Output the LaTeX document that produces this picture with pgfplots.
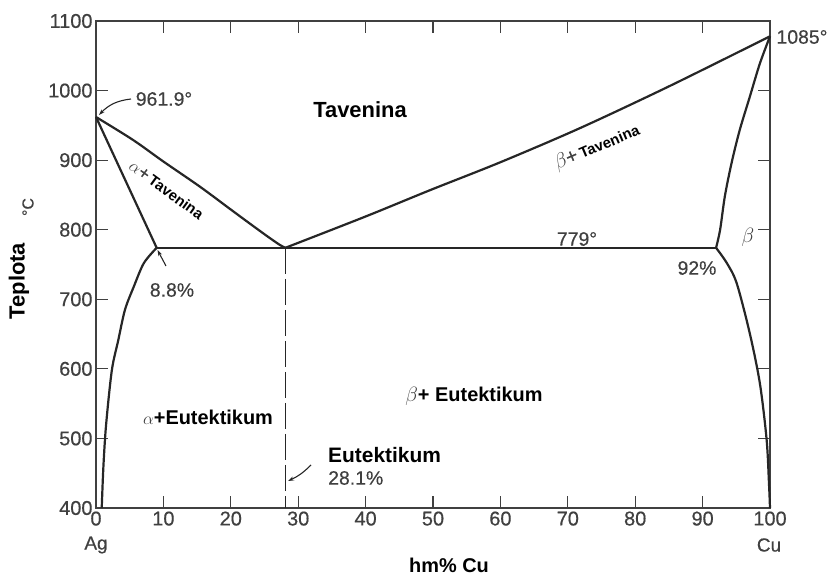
\documentclass[border=0pt]{standalone}
\usepackage{fontspec}
\setmainfont{Liberation Sans}
\newfontface\semib{Liberation Sans}[FakeBold=0.5]
\usepackage{pgfplots}
\pgfplotsset{compat=1.18}
\usetikzlibrary{arrows.meta}
\definecolor{ink}{gray}{0.15}
\definecolor{tk}{gray}{0.25}
\newcommand{\fs}[1]{\fontsize{#1}{#1}\selectfont}
\begin{document}
\begin{tikzpicture}
\path[use as bounding box] (0bp,0bp) rectangle (829bp,580bp);
\begin{axis}[
  at={(96bp,72bp)}, anchor=south west,
  scale only axis, width=674bp, height=487bp,
  xmin=0, xmax=100, ymin=400, ymax=1100,
  xtick={0,10,...,100}, ytick={400,500,...,1100},
  tick align=inside, major tick length=12bp,
  axis line style={tk, line width=1.4bp},
  tick style={tk, line width=1.2bp},
  tick label style={font=\semib\fs{20}, text=tk},
  /pgf/number format/assume math mode=true,
  /pgf/number format/1000 sep={},
  clip=false,
]
% left liquidus
\addplot[ink, line width=2.2bp, smooth, tension=0.5] coordinates {
 (0,962) (5.5,929) (10,898) (15.4,862) (20,829) (22.8,809) (25.5,790) (27.3,778) (28.1,774)};
% left solidus
\addplot[ink, line width=2.2bp] coordinates {(0,962) (9,774)};
% eutectic line
\addplot[ink, line width=2.2bp] coordinates {(9,774) (92,774)};
% left solvus
\addplot[ink, line width=2.2bp, smooth, tension=0.5] coordinates {
 (9,774) (7.1,752) (5.6,718) (4.3,685) (3.3,641) (2.35,598) (1.5,520) (1.1,460) (0.85,400)};
% right liquidus
\addplot[ink, line width=2.2bp, smooth, tension=0.5] coordinates {
 (28.1,774) (40,819) (49.6,857) (60,897) (71.8,946) (85,1006) (100,1078)};
% right solidus
\addplot[ink, line width=2.2bp, smooth, tension=0.5] coordinates {
 (92,774) (92.6,800) (93.3,848) (94.3,896) (95.5,943) (97,991) (98.5,1039) (100,1078)};
% right solvus
\addplot[ink, line width=2.2bp, smooth, tension=0.5] coordinates {
 (92,774) (93.6,752) (95.06,723) (97,651) (98.5,579) (99.5,498) (99.85,435) (100,400)};
% eutectic composition
\addplot[ink, line width=1.3bp, dash pattern=on 26bp off 5bp] coordinates {(28.1,774) (28.1,400)};
\end{axis}
\begin{scope}[x=1bp, y=1bp]
\node[font=\bfseries\fs{22}] at (360,470) {Tavenina};
\node[rotate=-36, inner sep=0] at (166.5,390) {\textcolor{tk}{\fs{18}$\alpha$\semib+} \textbf{\fs{15}Tavenina}};
\node[rotate=23, inner sep=0] at (597,433) {\textcolor{tk}{\fs{20}$\beta$\semib+} \textbf{\fs{15}Tavenina}};
\node[font=\semib\fs{19.5}, text=tk] at (577,341) {779°};
\node[font=\fs{21}, text=tk] at (748,343) {$\beta$};
\node[font=\semib\fs{19.5}, text=tk] at (697,312) {92\%};
\node[font=\semib\fs{19.5}, text=tk] at (172,290) {8.8\%};
\node at (208,163) {\textcolor{tk}{\fs{19}$\alpha$}\textbf{\fs{20}+Eutektikum}};
\node at (474,184) {\textcolor{tk}{\fs{21}$\beta$}\textbf{\fs{20}+ Eutektikum}};
\node[font=\bfseries\fs{21}, anchor=west, inner sep=0] at (328,125) {Eutektikum};
\node[font=\semib\fs{19.5}, text=tk, anchor=west, inner sep=0] at (328,102) {28.1\%};
\draw[ink, line width=1.1bp, -{Stealth[length=6bp,width=4bp]}] (311,115) to[bend left=10] (288,99);
\node[font=\semib\fs{19.5}, text=tk] at (164,481) {961.9°};
\draw[ink, line width=1.1bp, -{Stealth[length=6bp,width=4bp]}] (131,481) to[bend right=20] (99,465);
\draw[ink, line width=1.1bp, -{Stealth[length=6bp,width=4bp]}] (166,314) -- (157.5,330);
\node[font=\semib\fs{19.5}, text=tk] at (802,543) {1085°};
\node[font=\bfseries\fs{22}, rotate=90] at (19,299) {Teplota};
\node[font=\semib\fs{16}, text=tk, rotate=90] at (28,373) {°C};
\node[font=\bfseries\fs{20}] at (449,15) {hm\% Cu};
\node[font=\semib\fs{19}, text=tk] at (96,35) {Ag};
\node[font=\semib\fs{19}, text=tk] at (769,35) {Cu};
\end{scope}
\end{tikzpicture}
\end{document}
